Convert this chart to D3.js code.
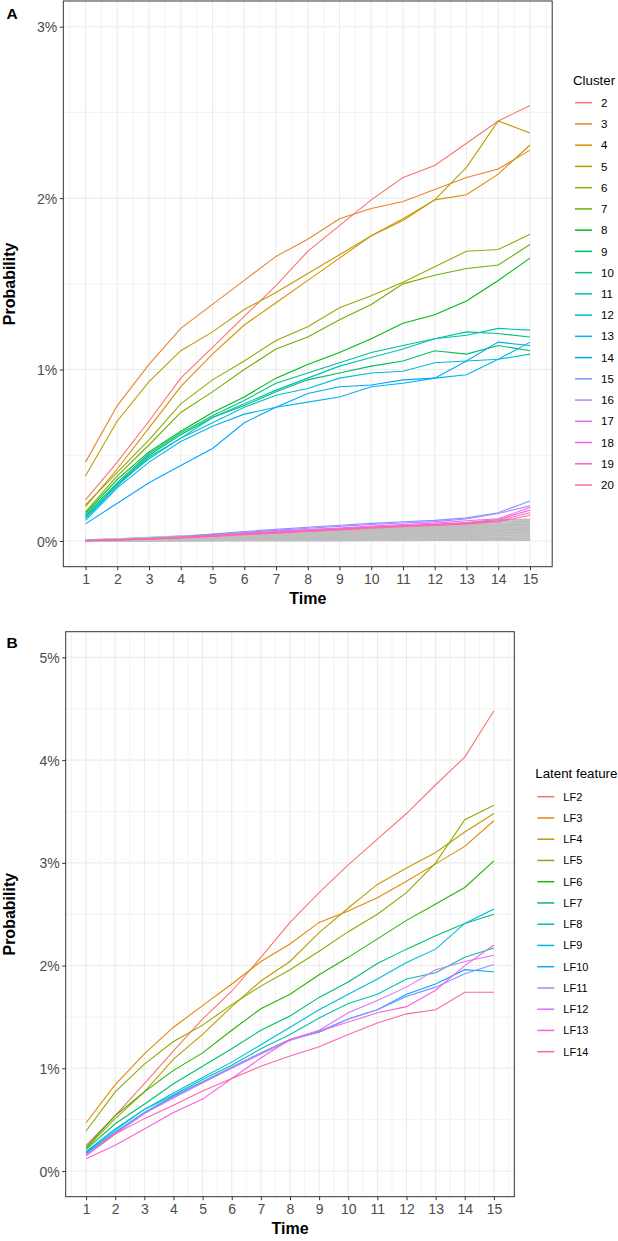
<!DOCTYPE html>
<html>
<head>
<meta charset="utf-8">
<script src="https://cdn.jsdelivr.net/npm/d3@7"></script>
<style>
  body { margin: 0; background: #fff; }
  svg { display: block; font-family: "Liberation Sans", Arial, sans-serif; }
</style>
</head>
<body>
<svg id="chart" width="618" height="1241"></svg>
<script>
// ---------------------------------------------
//  Data (probabilities in %)
// ---------------------------------------------

const times = [1, 2, 3, 4, 5, 6, 7, 8, 9, 10, 11, 12, 13, 14, 15];

// Panel A -- clusters 2..20
const clusterNames = ["2", "3", "4", "5", "6", "7", "8", "9", "10", "11",
  "12", "13", "14", "15", "16", "17", "18", "19", "20"];
const clusterSeries = [
  [0.24, 0.46, 0.70, 0.95, 1.13, 1.31, 1.49, 1.69, 1.84, 1.99, 2.12, 2.19, 2.32, 2.45, 2.54],
  [0.46, 0.79, 1.03, 1.24, 1.38, 1.52, 1.66, 1.76, 1.88, 1.94, 1.98, 2.05, 2.12, 2.17, 2.28],
  [0.20, 0.42, 0.66, 0.90, 1.09, 1.26, 1.39, 1.52, 1.65, 1.78, 1.87, 1.99, 2.02, 2.14, 2.31],
  [0.38, 0.70, 0.93, 1.11, 1.22, 1.35, 1.45, 1.56, 1.67, 1.78, 1.88, 1.99, 2.18, 2.45, 2.38],
  [0.21, 0.40, 0.59, 0.80, 0.94, 1.05, 1.17, 1.25, 1.36, 1.43, 1.51, 1.60, 1.69, 1.70, 1.79],
  [0.17, 0.38, 0.56, 0.75, 0.87, 1.00, 1.12, 1.19, 1.29, 1.38, 1.50, 1.55, 1.59, 1.61, 1.73],
  [0.16, 0.36, 0.52, 0.64, 0.75, 0.84, 0.95, 1.03, 1.10, 1.18, 1.27, 1.32, 1.40, 1.52, 1.65],
  [0.14, 0.33, 0.50, 0.62, 0.72, 0.79, 0.87, 0.94, 0.98, 1.02, 1.05, 1.11, 1.09, 1.14, 1.11],
  [0.15, 0.34, 0.51, 0.63, 0.73, 0.82, 0.92, 0.98, 1.04, 1.10, 1.14, 1.18, 1.22, 1.21, 1.19],
  [0.13, 0.32, 0.49, 0.60, 0.72, 0.80, 0.88, 0.95, 1.02, 1.07, 1.12, 1.18, 1.20, 1.24, 1.23],
  [0.14, 0.33, 0.48, 0.60, 0.69, 0.78, 0.85, 0.89, 0.95, 0.98, 0.99, 1.04, 1.05, 1.06, 1.09],
  [0.12, 0.31, 0.46, 0.58, 0.67, 0.74, 0.78, 0.81, 0.84, 0.90, 0.92, 0.95, 0.97, 1.06, 1.16],
  [0.10, 0.22, 0.34, 0.44, 0.54, 0.69, 0.78, 0.86, 0.90, 0.91, 0.94, 0.95, 1.05, 1.16, 1.14],
  [0.002, 0.008, 0.015, 0.025, 0.040, 0.055, 0.068, 0.080, 0.092, 0.103, 0.112, 0.120, 0.135, 0.165, 0.233],
  [0.002, 0.007, 0.014, 0.023, 0.036, 0.050, 0.062, 0.074, 0.085, 0.096, 0.105, 0.113, 0.128, 0.160, 0.205],
  [0.002, 0.007, 0.013, 0.022, 0.033, 0.045, 0.056, 0.066, 0.076, 0.087, 0.096, 0.104, 0.118, 0.130, 0.195],
  [0.002, 0.006, 0.012, 0.020, 0.030, 0.041, 0.051, 0.061, 0.071, 0.081, 0.090, 0.098, 0.108, 0.125, 0.180],
  [0.002, 0.006, 0.012, 0.019, 0.029, 0.039, 0.049, 0.058, 0.068, 0.078, 0.087, 0.095, 0.104, 0.118, 0.165],
  [0.002, 0.006, 0.011, 0.018, 0.027, 0.037, 0.046, 0.055, 0.064, 0.074, 0.083, 0.090, 0.100, 0.112, 0.150]
];

// Remaining clusters, drawn in grey
const otherClusterSeries = [
  [0.004, 0.011, 0.019, 0.028, 0.037, 0.046, 0.055, 0.063, 0.071, 0.079, 0.086, 0.094, 0.104, 0.122, 0.125],
  [0.004, 0.010, 0.018, 0.026, 0.035, 0.043, 0.051, 0.059, 0.067, 0.074, 0.081, 0.088, 0.097, 0.110, 0.118],
  [0.003, 0.010, 0.017, 0.025, 0.033, 0.041, 0.048, 0.056, 0.063, 0.070, 0.076, 0.083, 0.090, 0.100, 0.108],
  [0.003, 0.009, 0.015, 0.022, 0.030, 0.037, 0.044, 0.051, 0.058, 0.064, 0.070, 0.076, 0.083, 0.091, 0.100],
  [0.003, 0.008, 0.014, 0.020, 0.027, 0.034, 0.040, 0.047, 0.053, 0.059, 0.064, 0.070, 0.076, 0.084, 0.092],
  [0.002, 0.007, 0.012, 0.018, 0.024, 0.030, 0.036, 0.042, 0.047, 0.052, 0.057, 0.062, 0.068, 0.075, 0.082],
  [0.002, 0.006, 0.011, 0.016, 0.021, 0.026, 0.031, 0.036, 0.041, 0.046, 0.050, 0.055, 0.060, 0.066, 0.073],
  [0.002, 0.005, 0.009, 0.014, 0.018, 0.023, 0.027, 0.032, 0.036, 0.040, 0.044, 0.048, 0.052, 0.058, 0.064],
  [0.002, 0.005, 0.008, 0.012, 0.015, 0.019, 0.023, 0.027, 0.030, 0.034, 0.037, 0.041, 0.044, 0.049, 0.054],
  [0.001, 0.004, 0.007, 0.010, 0.013, 0.016, 0.019, 0.022, 0.025, 0.028, 0.030, 0.033, 0.036, 0.040, 0.044],
  [0.001, 0.003, 0.005, 0.008, 0.010, 0.012, 0.015, 0.017, 0.019, 0.021, 0.023, 0.026, 0.028, 0.031, 0.034],
  [0.001, 0.002, 0.004, 0.006, 0.007, 0.009, 0.011, 0.012, 0.014, 0.015, 0.017, 0.019, 0.020, 0.022, 0.024],
  [0.001, 0.001, 0.002, 0.003, 0.004, 0.005, 0.006, 0.007, 0.008, 0.009, 0.010, 0.011, 0.012, 0.013, 0.014],
  [0.000, 0.001, 0.001, 0.001, 0.002, 0.002, 0.003, 0.003, 0.003, 0.004, 0.004, 0.005, 0.005, 0.005, 0.006]
];

// Panel B -- latent features LF2..LF14
const latentNames = ["LF2", "LF3", "LF4", "LF5", "LF6", "LF7", "LF8",
  "LF9", "LF10", "LF11", "LF12", "LF13", "LF14"];
const latentSeries = [
  [0.25, 0.54, 0.85, 1.17, 1.48, 1.75, 2.08, 2.42, 2.71, 2.98, 3.23, 3.48, 3.76, 4.03, 4.48],
  [0.47, 0.84, 1.14, 1.40, 1.61, 1.82, 2.04, 2.21, 2.42, 2.53, 2.66, 2.82, 2.99, 3.16, 3.41],
  [0.22, 0.51, 0.77, 1.09, 1.33, 1.60, 1.85, 2.04, 2.32, 2.56, 2.79, 2.95, 3.10, 3.30, 3.48],
  [0.39, 0.77, 1.04, 1.26, 1.42, 1.62, 1.80, 1.96, 2.14, 2.33, 2.50, 2.71, 3.00, 3.42, 3.56],
  [0.23, 0.54, 0.77, 0.98, 1.15, 1.37, 1.58, 1.72, 1.91, 2.08, 2.26, 2.44, 2.60, 2.76, 3.02],
  [0.21, 0.46, 0.65, 0.85, 1.02, 1.19, 1.37, 1.51, 1.69, 1.84, 2.02, 2.16, 2.29, 2.41, 2.50],
  [0.19, 0.41, 0.60, 0.74, 0.89, 1.03, 1.19, 1.33, 1.49, 1.63, 1.72, 1.87, 1.93, 2.08, 2.17],
  [0.18, 0.40, 0.60, 0.76, 0.91, 1.06, 1.23, 1.40, 1.57, 1.72, 1.87, 2.03, 2.16, 2.41, 2.55],
  [0.17, 0.38, 0.57, 0.73, 0.87, 1.01, 1.15, 1.28, 1.35, 1.48, 1.57, 1.72, 1.82, 1.96, 1.94],
  [0.15, 0.36, 0.56, 0.72, 0.86, 1.00, 1.14, 1.27, 1.36, 1.48, 1.57, 1.70, 1.79, 1.92, 2.01],
  [0.16, 0.37, 0.56, 0.71, 0.86, 1.01, 1.15, 1.28, 1.37, 1.54, 1.66, 1.79, 1.96, 2.04, 2.10],
  [0.12, 0.25, 0.41, 0.57, 0.70, 0.90, 1.10, 1.28, 1.36, 1.45, 1.54, 1.60, 1.76, 2.00, 2.20],
  [0.15, 0.36, 0.51, 0.64, 0.78, 0.90, 1.02, 1.12, 1.21, 1.33, 1.44, 1.53, 1.57, 1.74, 1.74]
];

// Axis breaks
const yTicksA = [0, 1, 2, 3];
const yTicksB = [0, 1, 2, 3, 4, 5];
const yLimitsA = [0, 3];
const yLimitsB = [0, 5];

// ---------------------------------------------
//  ggplot-like hue palette (polar LUV -> sRGB)
// ---------------------------------------------

function hclToHex(h, c, l) {
  const rad = h * Math.PI / 180;
  const U = c * Math.cos(rad), V = c * Math.sin(rad);
  const Y = l > 7.999592 ? Math.pow((l + 16) / 116, 3) : l / 903.3;
  const u = U / (13 * l) + 0.1978398;
  const v = V / (13 * l) + 0.4683363;
  const X = 9 * Y * u / (4 * v);
  const Z = -X / 3 - 5 * Y + 3 * Y / v;
  const gtrans = x => x > 0.00304 ? 1.055 * Math.pow(x, 1 / 2.4) - 0.055 : 12.92 * x;
  const clip = x => Math.round(255 * Math.max(0, Math.min(1, gtrans(x))));
  return d3.rgb(
    clip(3.240479 * X - 1.537150 * Y - 0.498535 * Z),
    clip(-0.969256 * X + 1.875992 * Y + 0.041556 * Z),
    clip(0.055648 * X - 0.204043 * Y + 1.057311 * Z)
  ).formatHex();
}

function huePalette(n) {
  const colors = [];
  for (let i = 0; i < n; i++) colors.push(hclToHex(15 + 360 * i / n, 100, 65));
  return colors;
}

// ---------------------------------------------
//  Panel drawing
// ---------------------------------------------

const svg = d3.select("#chart");

function drawPanel(p) {
  const g = svg.append("g");

  // ggplot default 5% expansion
  const xPad = (times[times.length - 1] - times[0]) * 0.05;
  const yPad = (p.yLimits[1] - p.yLimits[0]) * 0.05;
  const x = d3.scaleLinear()
    .domain([times[0] - xPad, times[times.length - 1] + xPad])
    .range([p.left, p.right]);
  const y = d3.scaleLinear()
    .domain([p.yLimits[0] - yPad, p.yLimits[1] + yPad])
    .range([p.bottom, p.top]);

  // grid
  const xMinor = times.map(t => t - 0.5).concat([times[times.length - 1] + 0.5]);
  const yMinor = p.yTicks.slice(0, -1).map(t => t + 0.5);
  const grid = g.append("g");
  grid.selectAll(".xminor").data(xMinor).enter().append("line")
    .attr("x1", d => x(d)).attr("x2", d => x(d))
    .attr("y1", p.top).attr("y2", p.bottom)
    .attr("stroke", "#ebebeb").attr("stroke-width", 0.6);
  grid.selectAll(".yminor").data(yMinor).enter().append("line")
    .attr("y1", d => y(d)).attr("y2", d => y(d))
    .attr("x1", p.left).attr("x2", p.right)
    .attr("stroke", "#ebebeb").attr("stroke-width", 0.6);
  grid.selectAll(".xmajor").data(times).enter().append("line")
    .attr("x1", d => x(d)).attr("x2", d => x(d))
    .attr("y1", p.top).attr("y2", p.bottom)
    .attr("stroke", "#ebebeb").attr("stroke-width", 1.1);
  grid.selectAll(".ymajor").data(p.yTicks).enter().append("line")
    .attr("y1", d => y(d)).attr("y2", d => y(d))
    .attr("x1", p.left).attr("x2", p.right)
    .attr("stroke", "#ebebeb").attr("stroke-width", 1.1);

  const line = d3.line()
    .x((d, i) => x(times[i]))
    .y(d => y(d));

  // grey background lines
  if (p.greySeries) {
    g.append("g").selectAll("path").data(p.greySeries).enter().append("path")
      .attr("d", line)
      .attr("fill", "none")
      .attr("stroke", "#bebebe")
      .attr("stroke-width", 1.9);
  }

  const colors = huePalette(p.names.length);
  g.append("g").selectAll("path").data(p.series).enter().append("path")
    .attr("d", line)
    .attr("fill", "none")
    .attr("stroke", (d, i) => colors[i])
    .attr("stroke-width", 1.1);

  // border
  g.append("rect")
    .attr("x", p.left).attr("y", p.top)
    .attr("width", p.right - p.left).attr("height", p.bottom - p.top)
    .attr("fill", "none").attr("stroke", "#333").attr("stroke-width", 1);

  // axes
  const xAxis = d3.axisBottom(x).tickValues(times).tickSize(3.5).tickSizeOuter(0);
  const yAxis = d3.axisLeft(y).tickValues(p.yTicks).tickFormat(d => d + "%")
    .tickSize(3.5).tickSizeOuter(0);

  const gx = g.append("g").attr("transform", `translate(0,${p.bottom})`).call(xAxis);
  const gy = g.append("g").attr("transform", `translate(${p.left},0)`).call(yAxis);
  [gx, gy].forEach(a => {
    a.select(".domain").remove();
    a.selectAll(".tick line").attr("stroke", "#333");
    a.selectAll(".tick text")
      .attr("fill", "#4d4d4d")
      .style("font-size", "14px")
      .style("font-family", "Liberation Sans, Arial, sans-serif");
  });
  gx.selectAll(".tick text").attr("y", 7).attr("dy", "0.71em");
  gy.selectAll(".tick text").attr("x", -6).attr("dy", "0.36em");

  // axis titles
  g.append("text")
    .attr("x", (p.left + p.right) / 2).attr("y", p.bottom + 37)
    .attr("text-anchor", "middle")
    .style("font-size", "16px").style("font-weight", "bold")
    .text("Time");
  g.append("text")
    .attr("transform", `translate(15,${(p.top + p.bottom) / 2}) rotate(-90)`)
    .attr("text-anchor", "middle")
    .style("font-size", "16px").style("font-weight", "bold")
    .text("Probability");

  // panel tag
  g.append("text")
    .attr("x", 6.5).attr("y", p.tagY)
    .style("font-size", "15.5px").style("font-weight", "bold")
    .text(p.tag);

  // legend
  const lg = g.append("g");
  lg.append("text")
    .attr("x", p.legendX).attr("y", p.legendTitleY)
    .style("font-size", "13.3px")
    .text(p.legendTitle);
  const items = lg.selectAll(".item").data(p.names).enter().append("g")
    .attr("transform", (d, i) => `translate(${p.legendX},${p.legendFirstY + i * p.legendStep})`);
  items.append("line")
    .attr("x1", 2).attr("x2", 19)
    .attr("stroke", (d, i) => colors[i])
    .attr("stroke-width", 1.5);
  items.append("text")
    .attr("x", 28).attr("dy", "0.36em")
    .style("font-size", p.legendFont)
    .text(d => d);
}

// Panel A
drawPanel({
  tag: "A", tagY: 18.5,
  left: 63.3, right: 552.2, top: 1, bottom: 566.7,
  yLimits: yLimitsA, yTicks: yTicksA,
  names: clusterNames, series: clusterSeries, greySeries: otherClusterSeries,
  legendTitle: "Cluster", legendX: 573, legendTitleY: 84.5,
  legendFirstY: 102.7, legendStep: 21.24, legendFont: "11.5px"
});

// Panel B
drawPanel({
  tag: "B", tagY: 648.3,
  left: 65.7, right: 514.3, top: 631.7, bottom: 1196.7,
  yLimits: yLimitsB, yTicks: yTicksB,
  names: latentNames, series: latentSeries, greySeries: null,
  legendTitle: "Latent feature", legendX: 535.3, legendTitleY: 778.3,
  legendFirstY: 796.7, legendStep: 21.25, legendFont: "11px"
});
</script>
</body>
</html>
